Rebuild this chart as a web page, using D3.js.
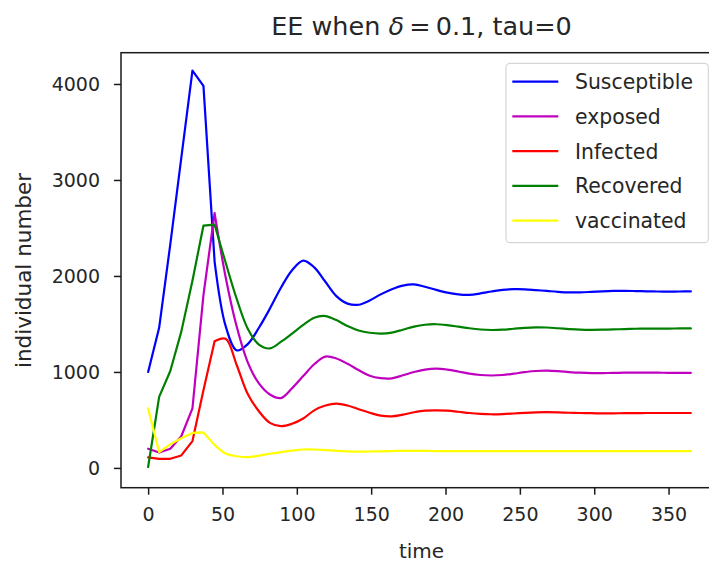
<!DOCTYPE html>
<html>
<head>
<meta charset="utf-8">
<script src="https://cdn.jsdelivr.net/npm/d3@7"></script>
<style>
    body { margin: 0; background: #ffffff; }
    #chart-area { width: 709px; height: 561px; }
    text { font-family: "DejaVu Sans", sans-serif; fill: #262626; }
</style>
</head>
<body>
<div id="chart-area"></div>
<script>

// time samples (odeint output, 50 points between 0 and 365)
let times = [0, 7.4, 14.9, 22.3, 29.8, 37.2, 44.7, 52.1, 59.6, 67.0,
    74.5, 81.9, 89.4, 96.8, 104.3, 111.7, 119.2, 126.6, 134.1, 141.5,
    149.0, 156.4, 163.9, 171.3, 178.8, 186.2, 193.7, 201.1, 208.6, 216.0,
    223.5, 230.9, 238.4, 245.8, 253.3, 260.7, 268.2, 275.6, 283.1, 290.5,
    298.0, 305.4, 312.9, 320.3, 327.8, 335.2, 342.7, 350.1, 357.6, 365.0];

let susceptible = [1000, 1460, 2330, 3230, 4140, 3980, 2150, 1480, 1225, 1290,
    1460, 1660, 1880, 2060, 2160, 2090, 1940, 1790, 1712, 1700,
    1745, 1808, 1862, 1900, 1912, 1887, 1855, 1826, 1808, 1803,
    1818, 1838, 1855, 1862, 1861, 1853, 1844, 1835, 1829, 1829,
    1834, 1840, 1844, 1845, 1843, 1840, 1838, 1837, 1838, 1839];

let exposed = [200, 160, 200, 330, 620, 1800, 2655, 1990, 1470, 1100,
    880, 765, 728, 830, 957, 1080, 1160, 1140, 1085, 1020,
    960, 935, 933, 965, 1000, 1025, 1035, 1025, 1005, 982,
    968, 963, 968, 982, 998, 1010, 1013, 1008, 999, 992,
    988, 988, 990, 992, 993, 993, 992, 991, 991, 991];

let infected = [110, 95, 95, 130, 280, 810, 1320, 1345, 1070, 770,
    590, 470, 435, 460, 515, 600, 650, 670, 650, 612,
    575, 545, 537, 555, 580, 597, 600, 596, 585, 572,
    563, 559, 561, 567, 574, 579, 581, 579, 575, 572,
    570, 569, 569, 570, 571, 572, 572, 572, 572, 572];

let recovered = [10, 740, 1010, 1420, 1950, 2525, 2535, 2140, 1760, 1450,
    1285, 1245, 1315, 1400, 1490, 1565, 1582, 1540, 1478, 1432,
    1408, 1400, 1410, 1440, 1472, 1492, 1497, 1488, 1472, 1455,
    1442, 1437, 1440, 1450, 1460, 1465, 1463, 1455, 1447, 1441,
    1439, 1440, 1443, 1447, 1450, 1452, 1452, 1452, 1453, 1454];

let vaccinated = [620, 165, 245, 310, 365, 370, 240, 150, 122, 113,
    128, 148, 165, 180, 192, 192, 186, 178, 172, 170,
    171, 173, 176, 178, 178, 177, 176, 175, 175, 175,
    175, 175, 175, 175, 175, 175, 175, 175, 175, 175,
    175, 175, 175, 175, 175, 175, 175, 175, 175, 175];

let seriesNames = ["Susceptible", "exposed", "Infected", "Recovered", "vaccinated"];
let seriesColors = ["#0000ff", "#bf00bf", "#ff0000", "#008000", "#ffff00"];

let xTicks = [0, 50, 100, 150, 200, 250, 300, 350];
let yTicks = [0, 1000, 2000, 3000, 4000];


class LineVis {

    constructor(parentElement, times, series) {
        this.parentElement = parentElement;
        this.times = times;
        this.series = series;

        this.initVis();
    }

    initVis() {
        let vis = this;

        vis.margin = {top: 52.7, left: 121};
        vis.width = 597;      // right spine falls just outside the picture
        vis.height = 435;

        vis.svg = d3.select("#" + vis.parentElement).append("svg")
            .attr("width", 709)
            .attr("height", 561);

        vis.svg.append("rect")
            .attr("width", 709)
            .attr("height", 561)
            .attr("fill", "#ffffff");

        vis.g = vis.svg.append("g")
            .attr("transform", `translate(${vis.margin.left}, ${vis.margin.top})`);

        // scales with matplotlib's 5% margins
        vis.x = d3.scaleLinear()
            .domain([-18.25, 383.25])
            .range([0, vis.width]);

        vis.y = d3.scaleLinear()
            .domain([-206, 4326])
            .range([vis.height, 0]);

        vis.xAxis = d3.axisBottom(vis.x)
            .tickValues(xTicks)
            .tickSize(7)
            .tickPadding(13)
            .tickFormat(d3.format("d"));

        vis.yAxis = d3.axisLeft(vis.y)
            .tickValues(yTicks)
            .tickSize(7)
            .tickPadding(14)
            .tickFormat(d3.format("d"));

        vis.g.append("g")
            .attr("class", "x axis")
            .attr("transform", `translate(0, ${vis.height})`)
            .call(vis.xAxis);

        vis.g.append("g")
            .attr("class", "y axis")
            .call(vis.yAxis);

        vis.g.selectAll(".axis").attr("font-size", 19).attr("font-family", null);
        vis.g.selectAll(".axis .domain").remove();
        vis.g.selectAll(".axis line").attr("stroke", "#1a1a1a").attr("stroke-width", 1.5);
        vis.g.selectAll(".axis text").attr("fill", "#262626");

        // lines group
        vis.lineGroup = vis.g.append("g").attr("class", "lines");

        // frame
        vis.g.append("rect")
            .attr("width", vis.width)
            .attr("height", vis.height)
            .attr("fill", "none")
            .attr("stroke", "#1a1a1a")
            .attr("stroke-width", 1.5);

        // labels
        vis.svg.append("text")
            .attr("x", 421.5)
            .attr("y", 557.5)
            .attr("text-anchor", "middle")
            .attr("font-size", 20)
            .text("time");

        vis.svg.append("text")
            .attr("transform", "translate(30.5, 270.5) rotate(-90)")
            .attr("text-anchor", "middle")
            .attr("font-size", 21.5)
            .text("individual number");

        let title = vis.svg.append("text")
            .attr("x", 421.5)
            .attr("y", 35)
            .attr("text-anchor", "middle")
            .attr("font-size", 25.5);
        title.append("tspan").text("EE when ");
        title.append("tspan").attr("font-style", "italic").text("δ");
        title.append("tspan").text("\u2009=\u20090.1, tau=0");

        vis.updateVis();
    }

    updateVis() {
        let vis = this;

        // outbreak phase is drawn straight (sharp corners as in the solver output),
        // the damped waves afterwards with a centripetal catmull-rom
        let lineSharp = d3.line()
            .x(d => vis.x(d[0]))
            .y(d => vis.y(d[1]));

        let lineSmooth = d3.line()
            .x(d => vis.x(d[0]))
            .y(d => vis.y(d[1]))
            .curve(d3.curveCatmullRom.alpha(0.5));

        let splitAt = 6;

        vis.lineGroup.selectAll("path")
            .data(vis.series)
            .enter()
            .append("path")
            .attr("d", d => {
                let pts = d.values.map((v, i) => [vis.times[i], v]);
                return lineSharp(pts.slice(0, splitAt + 1)) + lineSmooth(pts.slice(splitAt));
            })
            .attr("fill", "none")
            .attr("stroke", d => d.color)
            .attr("stroke-width", 2.2)
            .attr("stroke-linejoin", "round")
            .attr("stroke-linecap", "round");

        // legend (upper right)
        let legend = vis.svg.append("g").attr("class", "legend");

        legend.append("rect")
            .attr("x", 506)
            .attr("y", 63.3)
            .attr("width", 202.3)
            .attr("height", 179.4)
            .attr("rx", 4)
            .attr("fill", "#ffffff")
            .attr("fill-opacity", 0.8)
            .attr("stroke", "#d6d6d6")
            .attr("stroke-width", 1.2);

        let rows = legend.selectAll(".row")
            .data(vis.series)
            .enter()
            .append("g")
            .attr("class", "row")
            .attr("transform", (d, i) => `translate(0, ${81.7 + i * 34.75})`);

        rows.append("line")
            .attr("x1", 512.3)
            .attr("x2", 558.3)
            .attr("stroke", d => d.color)
            .attr("stroke-width", 2.2);

        rows.append("text")
            .attr("x", 575)
            .attr("dy", "0.36em")
            .attr("font-size", 20.4)
            .text(d => d.name);
    }
}

let seriesValues = [susceptible, exposed, infected, recovered, vaccinated];
let series = seriesNames.map((name, i) => ({name: name, color: seriesColors[i], values: seriesValues[i]}));

let lineVis = new LineVis("chart-area", times, series);

</script>
</body>
</html>
